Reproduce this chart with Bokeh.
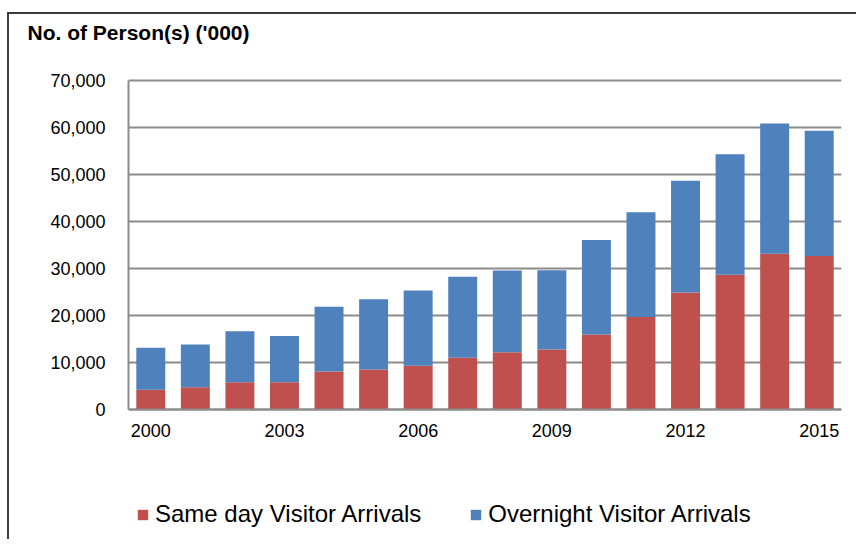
from bokeh.plotting import figure
from bokeh.models import (ColumnDataSource, Legend, LegendItem, FixedTicker, NumeralTickFormatter,
                          Range1d)
from bokeh.embed import file_html
from bokeh.resources import INLINE

years = [2000, 2001, 2002, 2003, 2004, 2005, 2006, 2007, 2008, 2009, 2010, 2011, 2012, 2013, 2014, 2015]
same_day = [4100, 4650, 5700, 5700, 8000, 8400, 9200, 10900, 12100, 12700, 15900, 19600, 24800, 28600, 33100, 32600]
overnight = [8960, 9080, 10870, 9840, 13810, 14960, 16050, 17270, 17410, 16890, 20130, 22320, 23820, 25700, 27740, 26710]
year_ticks = [2000, 2003, 2006, 2009, 2012, 2015]
y_ticks = [0, 10000, 20000, 30000, 40000, 50000, 60000, 70000]
series_names = ["Same day Visitor Arrivals", "Overnight Visitor Arrivals"]
title_text = "No. of Person(s) ('000)"

RED = "#C0504D"
BLUE = "#4F81BD"
GRID = "#8C8C8C"
FONT = "Liberation Sans"

# layout (screen pixels): the frame extends below the value axis to hold the legend
Y_MAX = 70000
FIG_H = 527
MB_TOP = 33
CONTENT_TOP = 14
FRAME_TOP = CONTENT_TOP + MB_TOP
FRAME_BOTTOM = CONTENT_TOP + FIG_H
PX_TOP_VALUE = 80.0
PX_ZERO = 408.5
upp = Y_MAX / (PX_ZERO - PX_TOP_VALUE)
y_start = -(FRAME_BOTTOM - PX_ZERO) * upp
y_end = Y_MAX + (PX_TOP_VALUE - FRAME_TOP) * upp

source = ColumnDataSource(dict(year=years, same_day=same_day, overnight=overnight))

p = figure(width=849, height=FIG_H, output_backend="svg", toolbar_location=None,
           x_range=Range1d(years[0] - 0.5, years[-1] + 0.5), y_range=Range1d(y_start, y_end),
           min_border_left=119, min_border_right=17, min_border_top=MB_TOP, min_border_bottom=0)
p.margin = (12, 0, 0, 7)
p.styles = {"border-top": "2px solid #3C3C3C", "border-left": "2px solid #3C3C3C"}
p.outline_line_color = None
p.background_fill_color = "white"
p.border_fill_color = "white"

renderers = p.vbar_stack(["same_day", "overnight"], x="year", width=0.65,
                         color=[RED, BLUE], line_color=None, source=source)

p.xgrid.grid_line_color = None
p.ygrid.grid_line_color = GRID
p.ygrid.grid_line_width = 2
p.ygrid.ticker = FixedTicker(ticks=y_ticks)

p.xaxis.ticker = FixedTicker(ticks=year_ticks)
p.xaxis.fixed_location = 0
p.yaxis.ticker = FixedTicker(ticks=y_ticks)
p.yaxis.bounds = (0, Y_MAX)
p.yaxis.formatter = NumeralTickFormatter(format="0,0")
for ax in (p.xaxis[0], p.yaxis[0]):
    ax.axis_line_color = GRID
    ax.axis_line_width = 2
    ax.major_tick_line_color = None
    ax.minor_tick_line_color = None
    ax.major_tick_out = 0
    ax.major_tick_in = 0
    ax.minor_tick_out = 0
    ax.major_label_text_font = FONT
    ax.major_label_text_font_size = "18px"
    ax.major_label_text_color = "black"
p.yaxis.major_label_standoff = 23
p.xaxis.major_label_standoff = 15

p.title.text = title_text
p.title.align = "left"
p.title.offset = -101
p.title.standoff = 7
p.title.text_font = FONT
p.title.text_font_size = "21px"
p.title.text_font_style = "bold"
p.title.text_color = "black"

legend = Legend(items=[LegendItem(label=series_names[0], renderers=[renderers[0]]),
                       LegendItem(label=series_names[1], renderers=[renderers[1]])],
                orientation="horizontal", location=(8, 13),
                label_text_font=FONT, label_text_font_size="24px", label_text_color="black",
                glyph_width=13, glyph_height=13, label_height=27, label_standoff=6, spacing=48,
                padding=0, margin=0, border_line_color=None, background_fill_alpha=0)
p.add_layout(legend, "center")

open("out.html", "w").write(file_html(p, INLINE))
